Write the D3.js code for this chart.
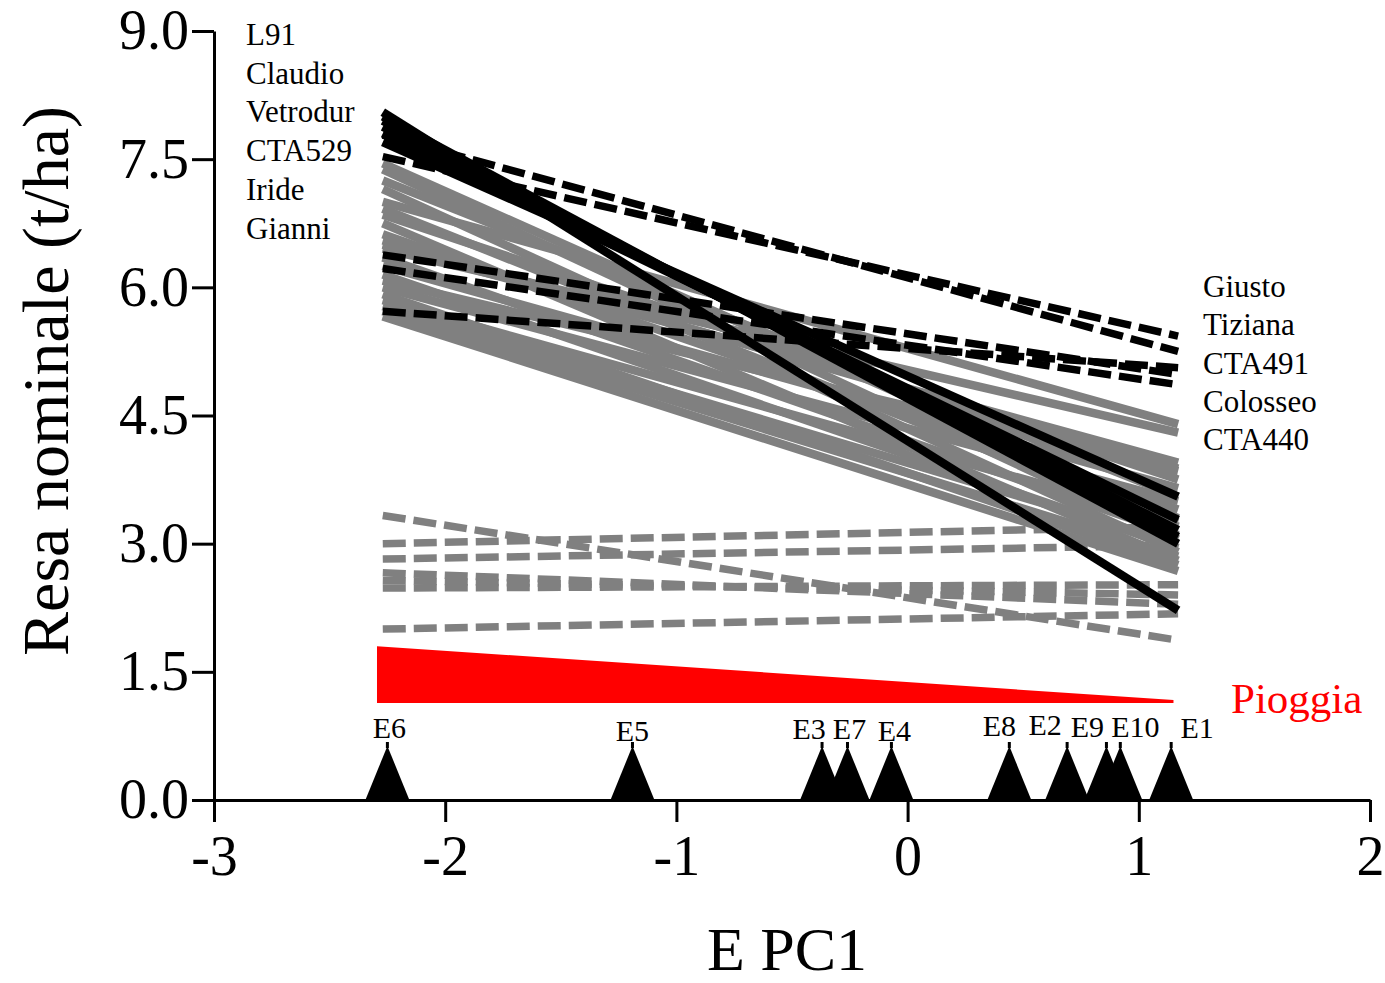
<!DOCTYPE html>
<html>
<head>
<meta charset="utf-8">
<script src="https://cdn.jsdelivr.net/npm/d3@7"></script>
<style>
  body { margin: 0; background: #fff; }
  text { font-family: "Liberation Serif", "Times New Roman", serif; }
</style>
</head>
<body>
<div id="chart"></div>
<script>

// environment index range covered by the regressions
const envRange = [-2.27, 1.17];

// genotype names (annotations)
const leftNames = ["L91", "Claudio", "Vetrodur", "CTA529", "Iride", "Gianni"];
const rightNames = ["Giusto", "Tiziana", "CTA491", "Colosseo", "CTA440"];

// yield at the two ends of the range (t/ha)
const blackSolidStart = [8.05, 8.00, 7.95, 7.88, 7.80, 7.70];
const blackSolidEnd   = [2.22, 3.00, 3.08, 3.16, 3.28, 3.55];

const blackDashStart = [7.78, 7.53, 6.38, 6.22, 5.72];
const blackDashEnd   = [5.25, 5.43, 4.98, 4.86, 5.06];

const graySolidStart = [7.45, 7.38, 7.25, 7.15, 7.00, 6.92, 6.85, 6.75, 6.62, 6.55, 6.50,
                        6.45, 6.35, 6.25, 6.15, 6.08, 6.00, 5.92, 5.85, 5.78, 5.72, 5.66];
const graySolidEnd   = [3.30, 3.05, 3.55, 2.90, 4.40, 3.20, 3.75, 2.80, 3.40, 3.88, 3.95,
                        4.30, 3.10, 3.65, 2.95, 3.85, 3.50, 2.75, 3.25, 3.00, 2.85, 2.68];

const grayDashStart = [3.33, 3.00, 2.82, 2.66, 2.57, 2.48, 2.00];
const grayDashEnd   = [1.87, 3.20, 2.98, 2.29, 2.40, 2.52, 2.18];

// rainfall wedge
const rainRange = [-2.295, 1.15];
const rainTop = [1.80, 1.17];
const rainBase = 1.135;

// environments on the PC1 axis
const envNames = ["E6", "E5", "E3", "E7", "E4", "E8", "E2", "E9", "E10", "E1"];
const envPC1   = [-2.25, -1.19, -0.37, -0.26, -0.07, 0.44, 0.69, 0.86, 0.92, 1.14];
// label nudges (px) so the labels do not collide
const envLabelDx = [2, 0, -13, 2, 3, -10, -22, -19, 15, 26];
const envLabelDy = [0, 3, 1, 1, 3, -2, -3, -1, -1, 0];

const yTicks = [0, 1.5, 3, 4.5, 6, 7.5, 9];
const xTicks = [-3, -2, -1, 0, 1, 2];

const svg = d3.select("#chart")
    .append("svg")
    .attr("width", 1385)
    .attr("height", 983);

const x = d3.scaleLinear().domain([-3, 2]).range([214, 1370]);
const y = d3.scaleLinear().domain([0, 9]).range([800, 31]);

const line = d3.line()
    .x(d => x(d[0]))
    .y(d => y(d[1]));

const toSegs = (s, e) => s.map((v, i) => [[envRange[0], v], [envRange[1], e[i]]]);

// rain wedge
const rainPts = [
    [rainRange[0], rainTop[0]],
    [rainRange[1], rainTop[1]],
    [rainRange[1], rainBase],
    [rainRange[0], rainBase]
];
svg.append("path")
    .attr("d", line(rainPts) + "Z")
    .attr("fill", "#ff0000");

svg.append("text")
    .attr("x", 1231)
    .attr("y", 713)
    .attr("fill", "#ff0000")
    .style("font-size", "43px")
    .text("Pioggia");

const lines = svg.append("g").attr("fill", "none");

lines.selectAll(".gdash")
    .data(toSegs(grayDashStart, grayDashEnd))
    .enter().append("path")
    .attr("d", line)
    .attr("stroke", "#808080")
    .attr("stroke-width", 7.5)
    .attr("stroke-dasharray", "23,8");

lines.selectAll(".gsolid")
    .data(toSegs(graySolidStart, graySolidEnd))
    .enter().append("path")
    .attr("d", line)
    .attr("stroke", "#808080")
    .attr("stroke-width", 8.5);

lines.selectAll(".bdash")
    .data(toSegs(blackDashStart, blackDashEnd))
    .enter().append("path")
    .attr("d", line)
    .attr("stroke", "#000")
    .attr("stroke-width", 7.5)
    .attr("stroke-dasharray", "23,8");

lines.selectAll(".bsolid")
    .data(toSegs(blackSolidStart, blackSolidEnd))
    .enter().append("path")
    .attr("d", line)
    .attr("stroke", "#000")
    .attr("stroke-width", 8.5);

// environment markers
const env = svg.append("g");
env.selectAll("path")
    .data(envPC1)
    .enter().append("path")
    .attr("d", d => `M${x(d) - 22},${y(0)} L${x(d)},${y(0) - 54} L${x(d) + 22},${y(0)} Z`)
    .attr("fill", "#000");

env.selectAll("rect")
    .data(envPC1)
    .enter().append("rect")
    .attr("x", d => x(d) - 1.5)
    .attr("y", y(0) - 58)
    .attr("width", 3)
    .attr("height", 6)
    .attr("fill", "#000");

env.selectAll("text")
    .data(envNames)
    .enter().append("text")
    .attr("x", (d, i) => x(envPC1[i]) + envLabelDx[i])
    .attr("y", (d, i) => 738 + envLabelDy[i])
    .attr("text-anchor", "middle")
    .style("font-size", "30px")
    .text(d => d);

// axes
const yAxisGroup = svg.append("g")
    .attr("transform", `translate(${x(-3)},0)`)
    .call(d3.axisLeft(y).tickValues(yTicks).tickFormat(d3.format(".1f"))
        .tickSize(22).tickSizeOuter(0).tickPadding(3));

const xAxisGroup = svg.append("g")
    .attr("transform", `translate(0,${y(0)})`)
    .call(d3.axisBottom(x).tickValues(xTicks).tickFormat(d => String(d))
        .tickSize(22).tickSizeOuter(0).tickPadding(13));

[xAxisGroup, yAxisGroup].forEach(g => {
    g.select(".domain").attr("stroke", "#000").attr("stroke-width", 3);
    g.selectAll(".tick line").attr("stroke", "#000").attr("stroke-width", 3);
    g.selectAll(".tick text")
        .attr("fill", "#000")
        .style("font-family", "'Liberation Serif', 'Times New Roman', serif")
        .style("font-size", "56px");
});

svg.append("text")
    .attr("transform", "translate(68,381) rotate(-90)")
    .attr("text-anchor", "middle")
    .style("font-size", "66px")
    .text("Resa nominale (t/ha)");

svg.append("text")
    .attr("x", 787)
    .attr("y", 970)
    .attr("text-anchor", "middle")
    .style("font-size", "62px")
    .text("E PC1");

// genotype labels
svg.selectAll(".lname")
    .data(leftNames)
    .enter().append("text")
    .attr("x", 246)
    .attr("y", (d, i) => 45 + i * 38.7)
    .style("font-size", "31px")
    .text(d => d);

svg.selectAll(".rname")
    .data(rightNames)
    .enter().append("text")
    .attr("x", 1203)
    .attr("y", (d, i) => 297 + i * 38.3)
    .style("font-size", "31px")
    .text(d => d);

</script>
</body>
</html>
